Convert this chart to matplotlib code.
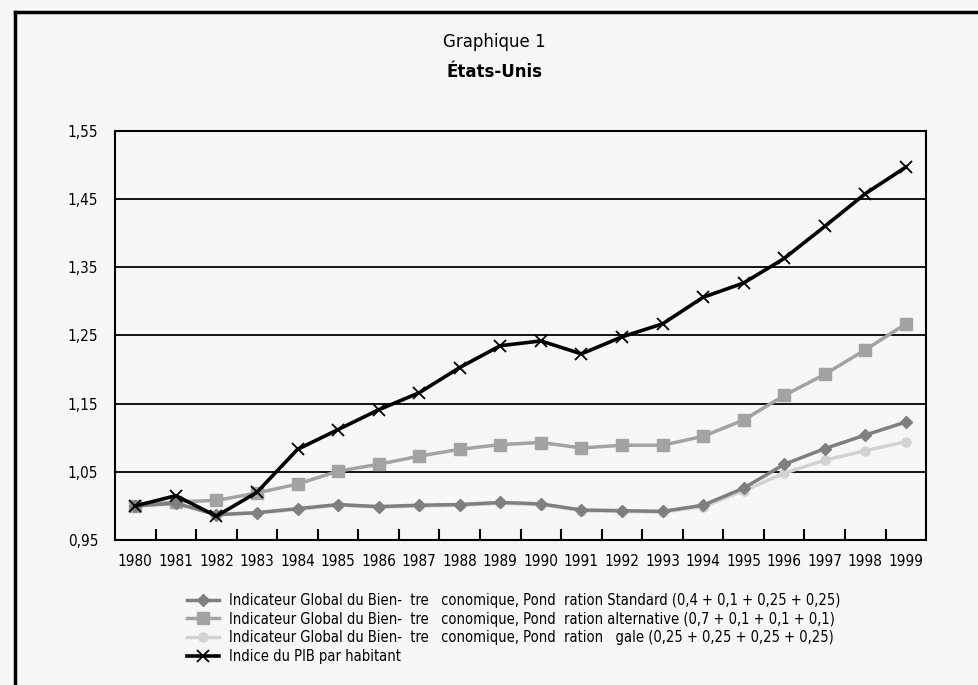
import numpy as np
import matplotlib
matplotlib.use("Agg")
import matplotlib.pyplot as plt
from matplotlib import font_manager

# Pick a narrow font if one is installed
names = set(f.name for f in font_manager.fontManager.ttflist)
if "Liberation Sans Narrow" in names:
    narrow = dict(family="Liberation Sans Narrow")
else:
    narrow = dict(family="DejaVu Sans", stretch="condensed")

years = [str(y) for y in range(1980, 2000)]

# Indicateur Global du Bien-être économique, pondération standard
igbe_standard = [1.000, 1.004, 0.987, 0.990, 0.996, 1.002, 0.999, 1.001, 1.002, 1.005,
                 1.003, 0.994, 0.993, 0.992, 1.001, 1.026, 1.061, 1.084, 1.104, 1.123]
# pondération alternative
igbe_alternative = [1.000, 1.006, 1.008, 1.019, 1.032, 1.051, 1.061, 1.073, 1.083, 1.090,
                    1.093, 1.085, 1.089, 1.089, 1.102, 1.126, 1.162, 1.193, 1.229, 1.267]
# pondération égale
igbe_egale = [1.000, 1.003, 0.988, 0.990, 0.995, 1.001, 0.998, 1.000, 1.001, 1.004,
              1.002, 0.993, 0.992, 0.991, 0.999, 1.022, 1.048, 1.067, 1.081, 1.094]
# Indice du PIB par habitant
pib = [1.000, 1.015, 0.985, 1.020, 1.083, 1.112, 1.141, 1.166, 1.203, 1.235,
       1.242, 1.223, 1.248, 1.267, 1.306, 1.327, 1.363, 1.410, 1.458, 1.497]

labels = [
    "Indicateur Global du Bien-  tre   conomique, Pond  ration Standard (0,4 + 0,1 + 0,25 + 0,25)",
    "Indicateur Global du Bien-  tre   conomique, Pond  ration alternative (0,7 + 0,1 + 0,1 + 0,1)",
    "Indicateur Global du Bien-  tre   conomique, Pond  ration   gale (0,25 + 0,25 + 0,25 + 0,25)",
    "Indice du PIB par habitant",
]

bg = "#f7f7f7"
fig = plt.figure(figsize=(9.79, 6.85), dpi=100, facecolor=bg)
ax = fig.add_axes([0.1175, 0.2117, 0.8285, 0.5971])
ax.set_facecolor(bg)

x = np.arange(len(years))
h1, = ax.plot(x, igbe_standard, color="#7f7f7f", lw=2.5, marker="D", ms=6.5, zorder=4)
h2, = ax.plot(x, igbe_alternative, color="#a3a3a3", lw=2.5, marker="s", ms=8, zorder=3)
h3, = ax.plot(x, igbe_egale, color="#d2d2d2", lw=2.5, marker="o", ms=6.5, zorder=2)
h4, = ax.plot(x, pib, color="black", lw=2.6, marker="x", ms=8, mew=1.3, zorder=5)

ax.set_xlim(-0.5, len(years) - 0.5)
ax.set_ylim(0.95, 1.55)
ax.set_yticks(np.arange(0.95, 1.56, 0.1))
ax.set_yticklabels([f"{v:.2f}".replace(".", ",") for v in np.arange(0.95, 1.56, 0.1)],
                   fontsize=11, **narrow)
ax.tick_params(axis="y", length=0, pad=12)
ax.yaxis.grid(True, color="black", lw=1.3)
ax.set_axisbelow(True)

ax.set_xticks(x)
ax.set_xticklabels(years, fontsize=11, **narrow)
ax.tick_params(axis="x", length=0, pad=10)
ax.set_xticks(x[:-1] + 0.5, minor=True)
ax.tick_params(axis="x", which="minor", direction="in", length=8, width=1.5, color="black")
for s in ax.spines.values():
    s.set_linewidth(1.5)

fig.text(0.505, 0.939, "Graphique 1", ha="center", va="center", fontsize=12)
fig.text(0.505, 0.895, "États-Unis", ha="center", va="center", fontsize=12, fontweight="bold")

leg = fig.legend([h1, h2, h3, h4], labels, loc="upper left", bbox_to_anchor=(0.185, 0.143),
                 frameon=False, handlelength=2.2, handletextpad=0.7, labelspacing=0.25,
                 borderaxespad=0, prop=dict(size=10.5, **narrow))

# Frame on left and top of the page
fig.add_artist(plt.Line2D([0.0155, 0.0155], [0, 0.982], color="black", lw=2.5))
fig.add_artist(plt.Line2D([0.0155, 1], [0.982, 0.982], color="black", lw=2.5))

fig.savefig("out.png", dpi=100, facecolor=bg)
